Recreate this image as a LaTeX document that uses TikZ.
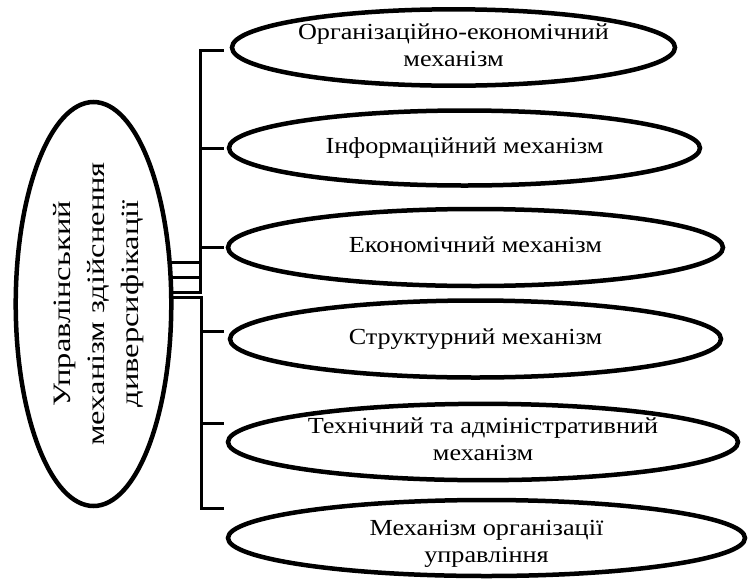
\documentclass[tikz,border=0pt]{standalone}
\usepackage{fontspec}
\setmainfont{Liberation Serif}
\usetikzlibrary{shapes.geometric,shadows,backgrounds}
\newcommand{\mtext}[2][1.14]{\scalebox{#1}[1]{\begin{tabular}{@{}c@{}}#2\end{tabular}}}
\begin{document}
\begin{tikzpicture}[x=1pt,y=-1pt,
  mech/.style={ellipse, draw=black, line width=4.5pt, fill=white, inner sep=0pt,
    font=\fontsize{23}{27}\selectfont,
    drop shadow={shadow xshift=1.5pt, shadow yshift=-2pt, opacity=0.3}},
  conn/.style={draw=black, line width=3pt, line cap=rect}]
\useasboundingbox (0,0) rectangle (750,579);
\node[mech, minimum width=153pt, minimum height=404pt] (L) at (93.5,304)
  {\hspace*{8pt}\rotatebox{90}{\fontsize{25}{34}\selectfont\mtext[1.3]{Управлінський\\ механізм здійснення\\ диверсифікації}}};
\node[mech, minimum width=443pt, minimum height=75pt] (E1) at (453.5,47.5) {\mtext{Організаційно-економічний\\ механізм}};
\node[mech, minimum width=471pt, minimum height=75pt] (E2) at (464.5,148) {\mtext{Інформаційний механізм}};
\node[mech, minimum width=495pt, minimum height=77pt] (E3) at (475.5,247.5) {\mtext{Економічний механізм}};
\node[mech, minimum width=491pt, minimum height=77pt] (E4) at (475.5,339) {\mtext{Структурний механізм}};
\node[mech, minimum width=510pt, minimum height=76pt] (E5) at (483,442) {\mtext{Технічний та адміністративний\\ механізм}};
\node[mech, minimum width=517pt, minimum height=76pt] (E6) at (486.5,538) {\raisebox{-12pt}[0pt][0pt]{\mtext{Механізм організації\\ управління}}};
\coordinate (b1) at (222,50);
\coordinate (b2) at (222,148);
\coordinate (b3) at (222,247);
\coordinate (b4) at (222,331);
\coordinate (b5) at (222,423);
\coordinate (b6) at (222,508);
\coordinate (ua) at (200,50);
\coordinate (ub) at (200,292);
\coordinate (la) at (201,297);
\coordinate (lb) at (201,508);
\begin{pgfonlayer}{background}
\draw[conn] (b1) -- (ua) -- (ub) -- (L.center |- ub);
\draw[conn] (L.center |- 0,262) -- (ua |- 0,262);
\draw[conn] (L.center |- 0,277) -- (ua |- 0,277);
\draw[conn] (b2) -- (ua |- b2);
\draw[conn] (b3) -- (ua |- b3);
\draw[conn] (L.center |- la) -- (la) -- (lb) -- (b6);
\draw[conn] (b4) -- (la |- b4);
\draw[conn] (b5) -- (la |- b5);
\end{pgfonlayer}
\end{tikzpicture}
\end{document}
